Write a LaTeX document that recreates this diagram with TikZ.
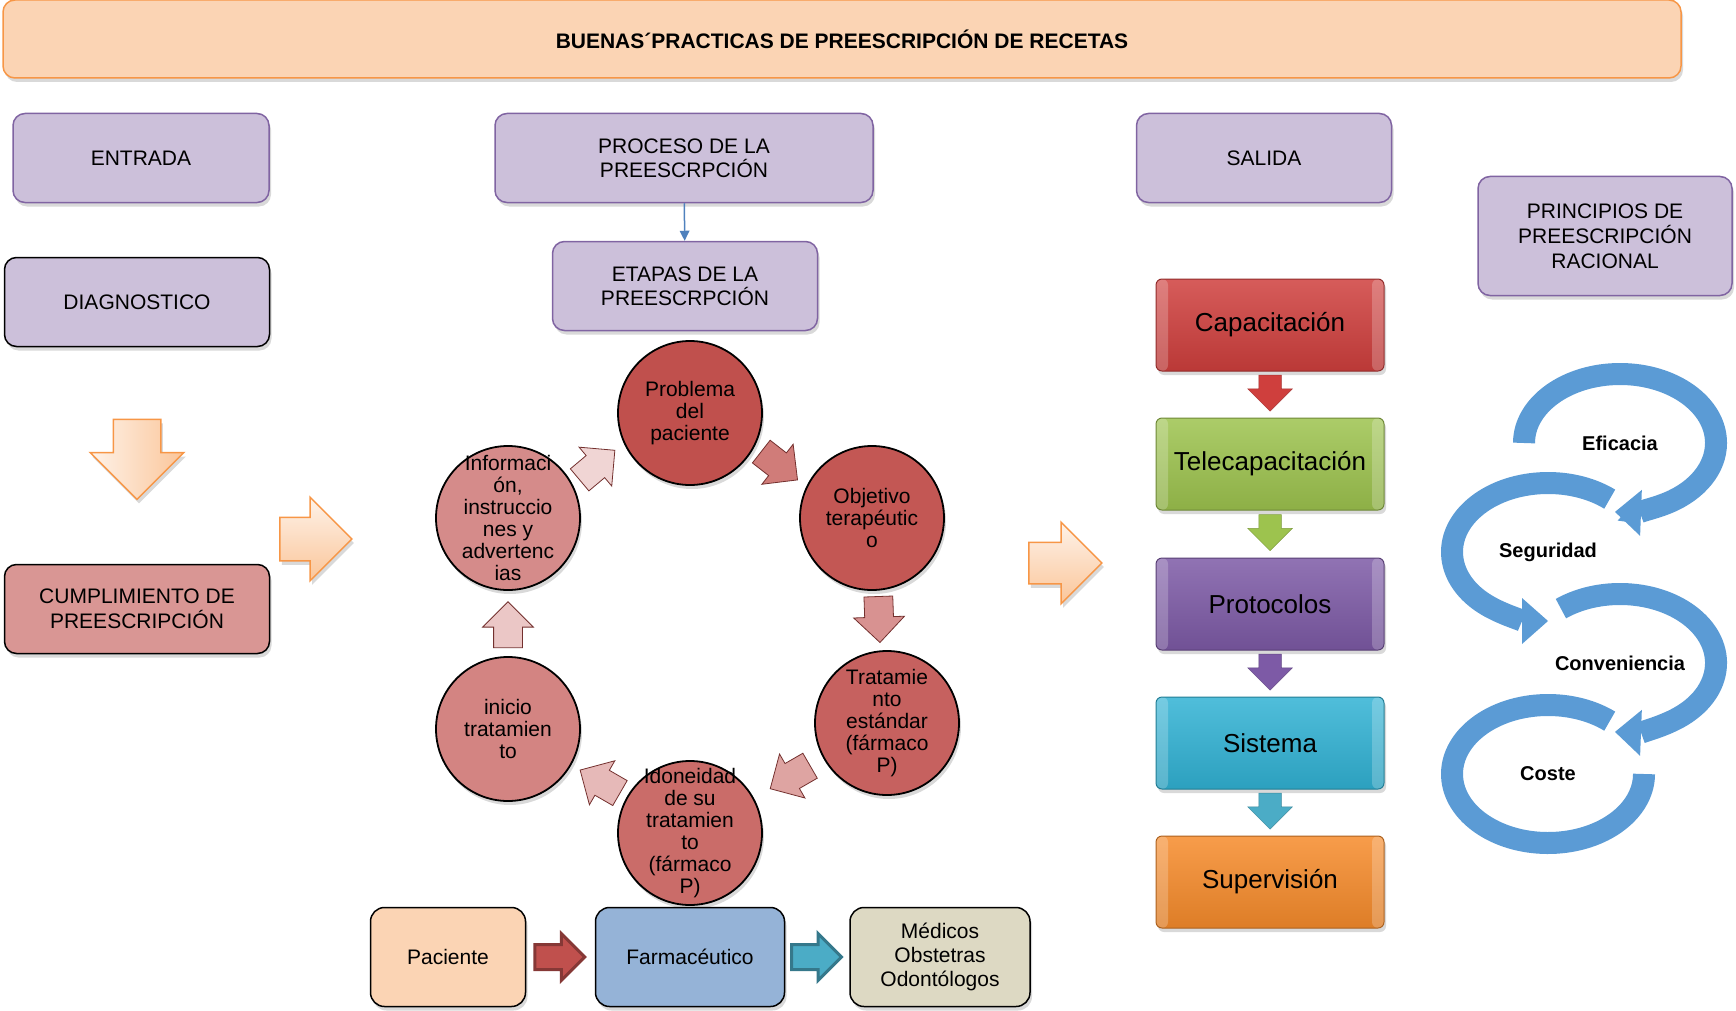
\documentclass[tikz,border=0pt]{standalone}
\usepackage{fontspec}
\setmainfont{Liberation Sans}
\usepackage{xcolor}
\usepackage{tikz}
\usetikzlibrary{shapes.arrows,shadows,arrows.meta,calc}

\definecolor{durazno}{HTML}{FBD4B4}
\definecolor{naranja}{HTML}{F79646}
\definecolor{lila}{HTML}{CCC0DA}
\definecolor{violeta}{HTML}{8064A2}
\definecolor{rosa}{HTML}{D99694}
\definecolor{rojo}{HTML}{C0504D}
\definecolor{azul}{HTML}{5B9BD5}
\definecolor{azulmed}{HTML}{4F81BD}
\definecolor{celeste}{HTML}{95B3D7}
\definecolor{arena}{HTML}{DDD9C3}
\definecolor{capac}{HTML}{CF3F3D}
\definecolor{telec}{HTML}{9DC34E}
\definecolor{proto}{HTML}{7D5AA6}
\definecolor{siste}{HTML}{31B2D4}
\definecolor{superv}{HTML}{F68B2B}
\definecolor{turq}{HTML}{4BACC6}

\tikzset{
  sombra/.style={drop shadow={opacity=0.3,shadow xshift=2pt,shadow yshift=-4pt}},
  titulo/.style={draw=naranja, line width=1.5pt, fill=durazno, rounded corners=12pt, minimum width=1678pt, minimum height=78pt, font=\bfseries\fontsize{21}{24}\selectfont, sombra},
  encabezado/.style={draw=violeta, line width=1.5pt, fill=lila, rounded corners=12pt, minimum height=89pt, align=center, font=\fontsize{21}{24}\selectfont, sombra},
  caja/.style={draw=black, line width=1.5pt, rounded corners=12pt, minimum width=265pt, minimum height=89pt, align=center, font=\fontsize{21}{25}\selectfont, sombra},
  etapa/.style={circle, draw=black, line width=1.8pt, minimum size=144pt, inner sep=-14pt, align=center, font=\fontsize{21}{22}\selectfont, sombra},
  ciclo/.style={single arrow, draw=rojo!60!black, line width=0.8pt, inner sep=0pt, inner ysep=14pt, single arrow head extend=11pt, minimum height=46pt},
  flecha/.style={single arrow, draw=naranja, line width=1.5pt, inner sep=0pt, sombra},
  salida/.style={draw=#1!70!black, top color=#1!85!white, bottom color=#1!90!black, line width=1pt, rounded corners=6pt, minimum width=228pt, minimum height=92pt, font=\fontsize{26}{30}\selectfont, sombra,
    path picture={
      \fill[white, opacity=0.22] (path picture bounding box.north west) rectangle ([xshift=12pt]path picture bounding box.south west);
      \fill[white, opacity=0.22] (path picture bounding box.north east) rectangle ([xshift=-12pt]path picture bounding box.south east);
    }},
  bajada/.style={single arrow, rotate=-90, fill=#1, draw=#1!80!black, line width=0.5pt, inner sep=0pt, inner ysep=11pt, single arrow head extend=11pt, minimum height=36pt},
  principio/.style={font=\bfseries\fontsize{20}{22}\selectfont},
  fin/.style={draw=black, line width=1.5pt, rounded corners=14pt, minimum width=155pt, minimum height=99pt, align=center, font=\fontsize{21}{24}\selectfont, sombra},
  paso/.style={single arrow, draw=#1!70!black, fill=#1, line width=3pt, inner sep=0pt, inner ysep=11pt, single arrow head extend=11pt, minimum height=50pt},
  arco/.style={azul, line width=22pt}
}

\begin{document}
\begin{tikzpicture}[x=1pt,y=-1pt]
\useasboundingbox (0,0) rectangle (1736,1011);

\node[titulo] (titulo) at (842,39) {BUENAS´PRACTICAS DE PREESCRIPCIÓN DE RECETAS};

\node[encabezado, minimum width=256pt] (entrada) at (141,158) {ENTRADA};
\node[encabezado, minimum width=378pt] (proceso) at (684,158) {PROCESO DE LA\\PREESCRPCIÓN};
\node[encabezado, minimum width=255pt] (salida) at (1264,158) {SALIDA};
\node[encabezado, minimum width=254pt, minimum height=119pt, font=\fontsize{21}{25}\selectfont] (principios) at (1605,236) {PRINCIPIOS DE\\PREESCRIPCIÓN\\RACIONAL};
\node[encabezado, minimum width=265pt] (etapas) at (685,286) {ETAPAS DE LA\\PREESCRPCIÓN};
\draw[azulmed, line width=1.5pt, -{Triangle[length=10pt,width=10pt,line width=0pt]}] (proceso) -- (etapas);

\node[caja, fill=lila] (diag) at (137,302) {DIAGNOSTICO};
\node[caja, fill=rosa] (cumpl) at (137,609) {CUMPLIMIENTO DE\\PREESCRIPCIÓN};
\node[flecha, rotate=-90, left color=naranja!12!white, right color=naranja!55!white, inner ysep=23pt, single arrow head extend=23pt, minimum height=80pt] (baja) at ($(diag.south)!0.5!(cumpl.north)+(0,-8)$) {};
\node[flecha, top color=naranja!12!white, bottom color=naranja!55!white, inner ysep=21pt, single arrow head extend=20pt, minimum height=72pt] (haciaetapas) at (305,539) {};
\node[flecha, top color=naranja!12!white, bottom color=naranja!55!white, inner ysep=20pt, single arrow head extend=20pt, minimum height=73pt] (haciasalida) at (1055,563) {};

\node[etapa, fill=rojo] (prob) at (690,413) {Problema\\del\\paciente};
\node[etapa, fill=rojo!96!white] (obj) at (872,518) {Objetivo\\terapéutic\\o};
\node[etapa, fill=rojo!90!white] (trat) at (887,723) {Tratamie\\nto\\estándar\\(fármaco\\P)};
\node[etapa, fill=rojo!84!white] (idon) at (690,833) {Idoneidad\\de su\\tratamien\\to\\(fármaco\\P)};
\node[etapa, fill=rojo!70!white] (inic) at (508,729) {inicio\\tratamien\\to};
\node[etapa, fill=rojo!66!white] (info) at (508,518) {Informaci\\ón,\\instruccio\\nes y\\advertenc\\ias};

\node[ciclo, fill=rojo!75, rotate=-38] (c1) at ($(prob)!0.46!(obj)$) {};
\node[ciclo, fill=rojo!62, rotate=-88] (c2) at ($(obj)!0.46!(trat)$) {};
\node[ciclo, fill=rojo!52, rotate=-150] (c3) at ($(trat)!0.46!(idon)$) {};
\node[ciclo, fill=rojo!40, rotate=150] (c4) at ($(idon)!0.46!(inic)$) {};
\node[ciclo, fill=rojo!32, rotate=90] (c5) at ($(inic)!0.46!(info)$) {};
\node[ciclo, fill=rojo!24, rotate=40] (c6) at ($(info)!0.46!(prob)$) {};

\node[fin, fill=durazno] (paciente) at (448,957) {Paciente};
\node[fin, fill=celeste, minimum width=189pt] (farma) at (690,957) {Farmacéutico};
\node[fin, fill=arena, minimum width=180pt] (medicos) at (940,957) {Médicos\\Obstetras\\Odontólogos};
\node[paso=rojo] (p1) at ($(paciente.east)!0.5!(farma.west)+(-7,0)$) {};
\node[paso=turq] (p2) at ($(farma.east)!0.5!(medicos.west)+(-7,0)$) {};

\node[salida=capac] (capacitacion) at (1270,325) {Capacitación};
\node[salida=telec] (telecap) at (1270,464) {Telecapacitación};
\node[salida=proto] (protocolos) at (1270,604) {Protocolos};
\node[salida=siste] (sistema) at (1270,743) {Sistema};
\node[salida=superv] (supervision) at (1270,882) {Supervisión};
\node[bajada=capac] (b1) at ($(capacitacion.south)!0.5!(telecap.north)+(0,-7)$) {};
\node[bajada=telec] (b2) at ($(telecap.south)!0.5!(protocolos.north)+(0,-7)$) {};
\node[bajada=proto] (b3) at ($(protocolos.south)!0.5!(sistema.north)+(0,-7)$) {};
\node[bajada=turq] (b4) at ($(sistema.south)!0.5!(supervision.north)+(0,-7)$) {};

\node[principio] (efi) at (1620,443) {Eficacia};
\node[principio] (seg) at (1548,552) {Seguridad};
\node[principio] (conv) at (1620,663) {Conveniencia};
\node[principio] (coste) at (1548,774) {Coste};
\draw[arco, -{Triangle[length=26pt,width=46pt,line width=0pt]}] (efi.center) ++(180:96pt and 69pt) arc[start angle=180, end angle=-93, x radius=96pt, y radius=69pt];
\draw[arco, -{Triangle[length=26pt,width=46pt,line width=0pt]}] (seg.center) ++(50:96pt and 69pt) arc[start angle=50, end angle=270, x radius=96pt, y radius=69pt];
\draw[arco, -{Triangle[length=26pt,width=46pt,line width=0pt]}] (conv.center) ++(128:96pt and 69pt) arc[start angle=128, end angle=-93, x radius=96pt, y radius=69pt];
\draw[arco] (coste.center) ++(50:96pt and 69pt) arc[start angle=50, end angle=360, x radius=96pt, y radius=69pt];
\end{tikzpicture}
\end{document}
